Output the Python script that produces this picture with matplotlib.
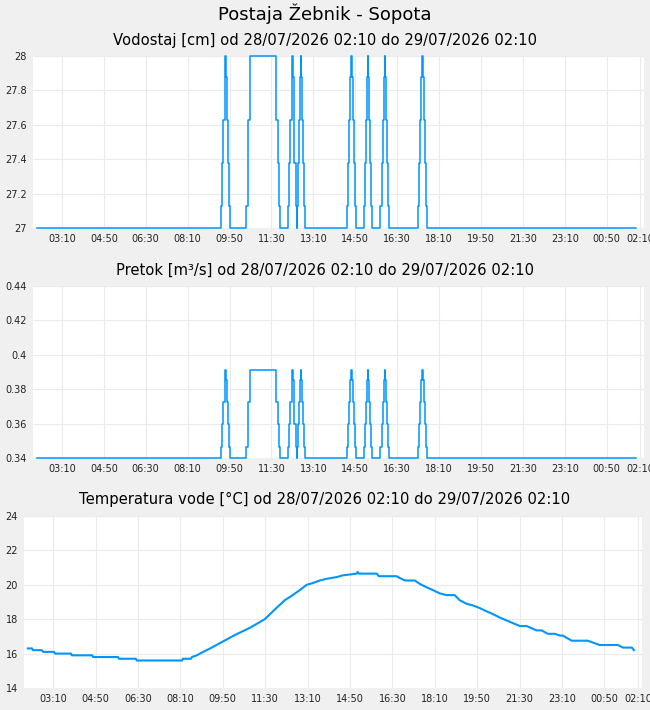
import numpy as np
import pandas as pd
import matplotlib
matplotlib.use("Agg")
import matplotlib.pyplot as plt
from matplotlib.ticker import FuncFormatter

day0 = "2026-07-28"
day1 = "2026-07-29"

# water level / discharge: step breakpoints (time of change, stage index)
level_times = ["02:10",
               "09:30", "09:33", "09:35", "09:38", "09:40", "09:41", "09:43", "09:46", "09:48", "09:51",
               "10:30", "10:33", "10:35", "10:38", "10:40", "11:40", "11:42", "11:45", "11:47", "11:50",
               "12:10", "12:13", "12:15", "12:18", "12:20", "12:21", "12:23", "12:25", "12:28", "12:30",
               "12:31", "12:33", "12:36", "12:38", "12:40", "12:41", "12:43", "12:46", "12:48", "12:51",
               "14:30", "14:33", "14:35", "14:38", "14:40", "14:42", "14:44", "14:47", "14:49", "14:52",
               "15:10", "15:13", "15:15", "15:18", "15:20", "15:21", "15:23", "15:26", "15:28", "15:31",
               "15:50", "15:53", "15:55", "15:58", "16:00", "16:01", "16:03", "16:06", "16:08", "16:11",
               "17:20", "17:23", "17:25", "17:28", "17:30", "17:31", "17:33", "17:36", "17:38", "17:41"]
level_idx = [0] + [1, 2, 3, 4, 5, 4, 3, 2, 1, 0] * 8
level_end = "02:00"

vodostaj_levels = [27, 27.13, 27.38, 27.63, 27.88, 28]
pretok_levels = [0.34, 0.3466, 0.3598, 0.3724, 0.3853, 0.391]

temp_times = ["02:10", "02:20", "02:22", "02:43", "02:46", "03:12", "03:14", "03:52", "03:54",
              "04:42", "04:44", "05:43", "05:45", "06:25", "06:27", "08:14", "08:16", "08:35",
              "08:37", "08:49", "08:56", "09:20", "09:50", "10:20", "10:54", "11:29", "11:50",
              "12:16", "12:35", "12:52", "13:08", "13:22", "13:39", "13:55", "14:19", "14:33",
              "14:50", "15:06", "15:08", "15:11", "15:53", "15:58", "16:40", "16:47", "17:00",
              "17:23", "17:35", "17:51", "18:05", "18:22", "18:38", "18:57", "19:09", "19:25",
              "19:40", "19:56", "20:13", "20:27", "20:43", "21:07", "21:31", "21:47", "22:10",
              "22:22", "22:37", "22:53", "23:05", "23:12", "23:33", "00:11", "00:39", "01:22",
              "01:34", "01:55", "02:00"]
temp_vals = [16.3, 16.3, 16.2, 16.2, 16.1, 16.1, 16.0, 16.0, 15.9,
             15.9, 15.8, 15.8, 15.7, 15.7, 15.6, 15.6, 15.7, 15.7,
             15.8, 15.9, 16.0, 16.3, 16.7, 17.1, 17.5, 18.0, 18.5,
             19.1, 19.4, 19.7, 20.0, 20.1, 20.25, 20.35, 20.45, 20.55,
             20.6, 20.65, 20.75, 20.65, 20.65, 20.5, 20.5, 20.4, 20.25,
             20.25, 20.05, 19.85, 19.7, 19.5, 19.4, 19.4, 19.1, 18.9,
             18.8, 18.65, 18.45, 18.3, 18.1, 17.85, 17.6, 17.6, 17.35,
             17.35, 17.15, 17.15, 17.05, 17.05, 16.75, 16.75, 16.5, 16.5,
             16.35, 16.35, 16.2]

tick_labels = ["03:10", "04:50", "06:30", "08:10", "09:50", "11:30", "13:10", "14:50",
               "16:30", "18:10", "19:50", "21:30", "23:10", "00:50", "02:10"]

start = pd.Timestamp(day0 + " 02:10")


def to_ts(t):
    ts = pd.Timestamp(day0 + " " + t)
    if ts < start:
        ts = pd.Timestamp(day1 + " " + t)
    return ts


lt = [to_ts(t) for t in level_times] + [pd.Timestamp(day1 + " " + level_end)]
li = level_idx + [0]
vodostaj = [vodostaj_levels[i] for i in li]
pretok = [pretok_levels[i] for i in li]
tt = [to_ts(t) for t in temp_times]
ticks = [to_ts(t) if t != "02:10" else pd.Timestamp(day1 + " 02:10") for t in tick_labels]

color = "#0095ff"
bg = "#f0f0f0"
W, H = 650, 710

fig = plt.figure(figsize=(6.5, 7.1), dpi=100, facecolor=bg)


def mk_ax(left, right, top, bottom):
    return fig.add_axes([left / W, 1 - bottom / H, (right - left) / W, (bottom - top) / H])


ax1 = mk_ax(33, 644, 56, 228)
ax2 = mk_ax(33, 644, 286, 458)
ax3 = mk_ax(24, 642, 516, 688)

xlo = start - pd.Timedelta(minutes=9)
xhi = start + pd.Timedelta(minutes=1449)

ax1.plot(lt, vodostaj, drawstyle="steps-post", color=color, lw=1.1, clip_on=False)
ax2.plot(lt, pretok, drawstyle="steps-post", color=color, lw=1.1, clip_on=False)
ax3.plot(tt, temp_vals, color=color, lw=1.5, clip_on=False)

ax1.set_ylim(27, 28)
ax1.set_yticks(np.arange(27, 28.01, 0.2))
ax2.set_ylim(0.34, 0.44)
ax2.set_yticks(np.arange(0.34, 0.4401, 0.02))
ax3.set_ylim(14, 24)
ax3.set_yticks(np.arange(14, 24.1, 2))

fmt = FuncFormatter(lambda v, p: "%g" % round(v, 2))
for ax in (ax1, ax2, ax3):
    ax.set_facecolor("white")
    ax.set_xlim(xlo, xhi)
    ax.set_xticks(ticks)
    ax.set_xticklabels(tick_labels)
    ax.yaxis.set_major_formatter(fmt)
    for s in ax.spines.values():
        s.set_visible(False)
    ax.grid(True, color="#ebebeb", lw=0.8)
    ax.set_axisbelow(True)
    ax.tick_params(length=0, labelsize=7, colors="#222222")
    ax.tick_params(axis="x", pad=4)
    ax.tick_params(axis="y", pad=4.5)

fig.text(0.5, 1 - 14 / H, "Postaja Žebnik - Sopota", ha="center", va="center", fontsize=13)
fig.text(0.5, 1 - 40 / H, "Vodostaj [cm] od 28/07/2026 02:10 do 29/07/2026 02:10",
         ha="center", va="center", fontsize=10.6)
fig.text(0.5, 1 - 270 / H, "Pretok [m³/s] od 28/07/2026 02:10 do 29/07/2026 02:10",
         ha="center", va="center", fontsize=10.6)
fig.text(0.5, 1 - 499 / H, "Temperatura vode [°C] od 28/07/2026 02:10 do 29/07/2026 02:10",
         ha="center", va="center", fontsize=10.6)

fig.savefig("out.png", dpi=100, facecolor=bg)
